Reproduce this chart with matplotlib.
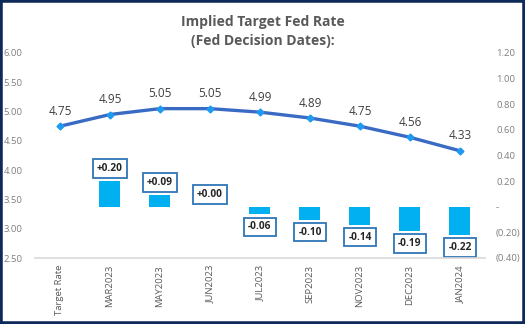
import matplotlib
matplotlib.use("Agg")
import matplotlib.pyplot as plt
from matplotlib.patches import Rectangle
from matplotlib.ticker import FuncFormatter, MultipleLocator

categories = ["Target Rate", "MAR2023", "MAY2023", "JUN2023", "JUL2023",
              "SEP2023", "NOV2023", "DEC2023", "JAN2024"]
implied_rate = [4.75, 4.95, 5.05, 5.05, 4.99, 4.89, 4.75, 4.56, 4.33]
change_categories = categories[1:]
change_values = [0.20, 0.09, 0.00, -0.06, -0.10, -0.14, -0.19, -0.22]

plt.rcParams['font.family'] = ['Open Sans', 'DejaVu Sans']

fig = plt.figure(figsize=(5.25, 3.24), dpi=100)
ax = fig.add_axes([35/525, 1-258/324, 450/525, 205/324])
ax2 = ax.twinx()

x = list(range(len(categories)))
xb = [categories.index(c) for c in change_categories]

# line on left axis
ax.plot(x, implied_rate, color="#3A6BC4", lw=2.4, marker="D", ms=3.5,
        mfc="#1E9BF0", mec="#1E9BF0", zorder=5)
for xi, v in zip(x, implied_rate):
    ax.annotate(f"{v:.2f}", (xi, v), xytext=(0, 6), textcoords="offset points",
                ha="center", va="bottom", fontsize=8.5, color="#404040")

ax.set_ylim(2.5, 6.0)
ax.yaxis.set_major_locator(MultipleLocator(0.5))
ax.yaxis.set_major_formatter(FuncFormatter(lambda v, p: f"{v:.2f}"))
ax.set_xlim(-0.5, len(categories) - 0.5)
ax.set_xticks(x)
ax.set_xticklabels(categories, rotation=90, fontsize=6.5, color="#595959")

# bars on right axis
ax2.bar(xb, change_values, width=0.42, color="#00B0F0", zorder=2)
for xi, v in zip(xb, change_values):
    if v >= 0:
        off, va = 5, "bottom"
    else:
        off, va = -5, "top"
    ax2.annotate(f"{v:+.2f}", (xi, v), xytext=(0, off), textcoords="offset points",
                 ha="center", va=va, fontsize=7.3, fontweight="bold", color="#262626",
                 bbox=dict(boxstyle="square,pad=0.38", fc="white", ec="#2E75B6", lw=1.3))
ax2.set_ylim(-0.4, 1.2)
ax2.yaxis.set_major_locator(MultipleLocator(0.2))

def rfmt(v, p):
    if abs(v) < 1e-9:
        return "-"
    if v < 0:
        return f"({abs(v):.2f})"
    return f"{v:.2f}"

ax2.yaxis.set_major_formatter(FuncFormatter(rfmt))

ax.set_zorder(ax2.get_zorder() + 1)
ax.patch.set_visible(False)

for a in (ax, ax2):
    for s in a.spines.values():
        s.set_visible(False)
    a.tick_params(length=0, labelsize=6.8, colors="#7F7F7F")
ax.spines["bottom"].set_visible(True)
ax.spines["bottom"].set_color("#D9D9D9")
ax.spines["bottom"].set_linewidth(1.2)
ax.tick_params(axis="y", pad=9)
ax.tick_params(axis="x", pad=5, colors="#595959")
ax2.tick_params(axis="y", pad=8)

fig.text(0.5, 1 - 22/324, "Implied Target Fed Rate", ha="center", va="center",
         fontsize=10, fontweight="bold", color="#595959")
fig.text(0.5, 1 - 41/324, "(Fed Decision Dates):", ha="center", va="center",
         fontsize=10, fontweight="bold", color="#595959")

fig.patches.append(Rectangle((0, 0), 1, 1, transform=fig.transFigure, fill=False,
                             ec="#0E2A5A", lw=4, zorder=10))

fig.savefig("out.png", dpi=100)
